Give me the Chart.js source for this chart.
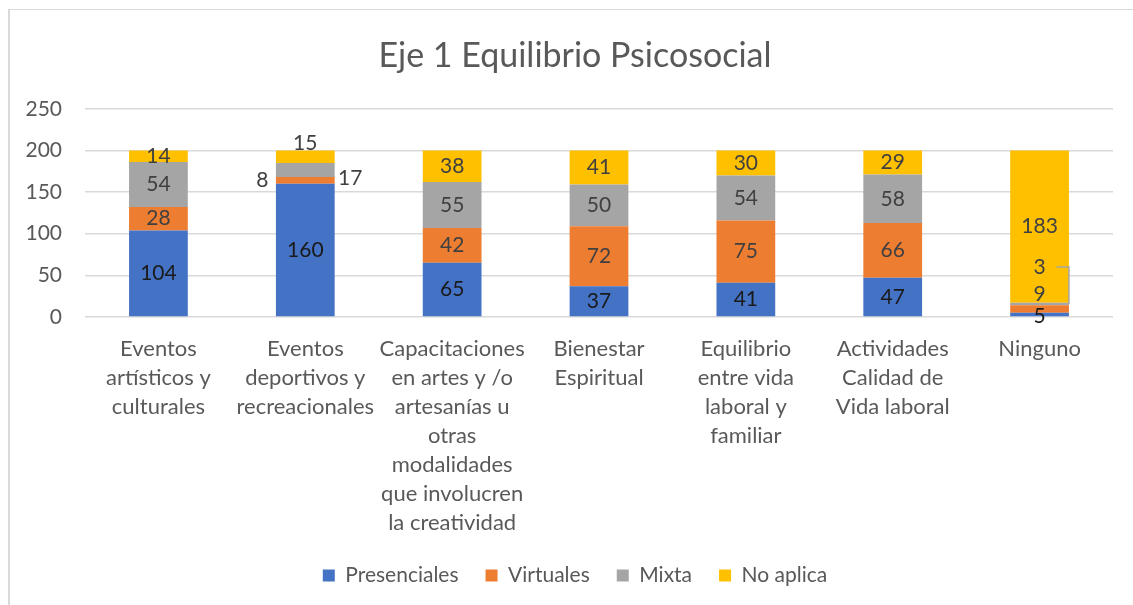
<!DOCTYPE html>
<html>
<head>
<meta charset="utf-8">
<script src="https://cdn.jsdelivr.net/npm/chart.js@4.4.1/dist/chart.umd.min.js"></script>
<style>
  html, body { margin: 0; background: #fff; overflow: hidden; }
  #box { position: absolute; left: 8px; top: 9px; width: 1150px; height: 600px; border-left: 2px solid #d9d9d9; border-top: 1px solid #d9d9d9; }
</style>
</head>
<body>
<div id="box"><canvas id="chart" width="1150" height="588"></canvas></div>
<script>
var categories = [
  ['Eventos', 'artísticos y', 'culturales'],
  ['Eventos', 'deportivos y', 'recreacionales'],
  ['Capacitaciones', 'en artes y /o', 'artesanías u', 'otras', 'modalidades', 'que involucren', 'la creatividad'],
  ['Bienestar', 'Espiritual'],
  ['Equilibrio', 'entre vida', 'laboral y', 'familiar'],
  ['Actividades', 'Calidad de', 'Vida laboral'],
  ['Ninguno']
];
var presenciales = [104, 160, 65, 37, 41, 47, 5];
var virtuales = [28, 8, 42, 72, 75, 66, 9];
var mixta = [54, 17, 55, 50, 54, 58, 3];
var noAplica = [14, 15, 38, 41, 30, 29, 183];
var yTicks = [0, 50, 100, 150, 200, 250];

var FONT = 'Lato, "Open Sans", sans-serif';

// labels that Excel moved off their segment
var labelShift = {
  '0,6': [0, 2],
  '1,1': [-43, 0],
  '2,1': [45, 8],
  '3,1': [0, -13],
  '1,6': [0, -15],
  '2,6': [0, -37]
};

var valueLabels = {
  id: 'valueLabels',
  afterDatasetsDraw: function(chart) {
    var ctx = chart.ctx;
    ctx.save();
    ctx.font = '21px ' + FONT;
    ctx.textAlign = 'center';
    ctx.textBaseline = 'middle';
    chart.data.datasets.forEach(function(ds, di) {
      chart.getDatasetMeta(di).data.forEach(function(el, i) {
        var cy = (el.y + el.base) / 2;
        var s = labelShift[di + ',' + i] || [0, 0];
        var x = el.x + s[0], y = cy + s[1];
        if (di === 2 && i === 6) {
          ctx.strokeStyle = '#a6a6a6';
          ctx.lineWidth = 1.5;
          ctx.beginPath();
          ctx.moveTo(x + 17, y);
          ctx.lineTo(el.x + el.width / 2, y);
          ctx.lineTo(el.x + el.width / 2, cy);
          ctx.stroke();
        }
        ctx.fillStyle = di === 0 ? '#1a1a1a' : '#404040';
        ctx.fillText(ds.data[i], x, y);
      });
    });
    ctx.restore();
  }
};

new Chart(document.getElementById('chart'), {
  type: 'bar',
  data: {
    labels: categories,
    datasets: [
      { label: 'Presenciales', data: presenciales, backgroundColor: '#4472C4' },
      { label: 'Virtuales', data: virtuales, backgroundColor: '#ED7D31' },
      { label: 'Mixta', data: mixta, backgroundColor: '#A5A5A5' },
      { label: 'No aplica', data: noAplica, backgroundColor: '#FFC000' }
    ]
  },
  options: {
    responsive: false,
    animation: false,
    datasets: { bar: { categoryPercentage: 1, barPercentage: 0.4 } },
    layout: { padding: { left: 0, right: 20, top: 0, bottom: 2 } },
    plugins: {
      tooltip: { enabled: false },
      title: {
        display: true,
        text: 'Eje 1 Equilibrio Psicosocial',
        color: '#595959',
        font: { family: FONT, size: 34, weight: 'normal' },
        padding: { top: 26, bottom: 32 }
      },
      legend: {
        position: 'bottom',
        labels: {
          color: '#595959',
          font: { family: FONT, size: 21 },
          boxWidth: 12,
          boxHeight: 12,
          padding: 27
        }
      }
    },
    scales: {
      x: {
        stacked: true,
        grid: { display: false },
        border: { display: false },
        ticks: {
          color: '#595959',
          font: { family: FONT, size: 22, lineHeight: 1.32 },
          maxRotation: 0,
          autoSkip: false,
          padding: 9
        },
        afterFit: function(scale) { scale.height = 221; }
      },
      y: {
        stacked: true,
        min: 0,
        max: 250,
        afterBuildTicks: function(scale) {
          scale.ticks = yTicks.map(function(v) { return { value: v }; });
        },
        grid: { color: '#d9d9d9', lineWidth: 1.5, drawTicks: false },
        border: { display: false },
        ticks: {
          color: '#595959',
          font: { family: FONT, size: 21 },
          padding: 23
        },
        afterFit: function(scale) { scale.width = 75; }
      },
      // empty right margin: the chart frame runs past the picture's edge
      gap: {
        type: 'linear',
        axis: 'y',
        position: 'right',
        grid: { display: false },
        border: { display: false },
        ticks: { display: false },
        afterFit: function(scale) { scale.width = 27; }
      }
    }
  },
  plugins: [valueLabels]
});
</script>
</body>
</html>
